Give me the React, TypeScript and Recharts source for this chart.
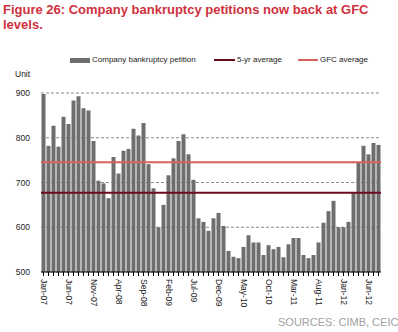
import React from 'react';
import { ComposedChart, Bar, XAxis, YAxis, CartesianGrid, ReferenceLine } from 'recharts';

const months = [
  'Jan-07', 'Feb-07', 'Mar-07', 'Apr-07', 'May-07', 'Jun-07', 'Jul-07', 'Aug-07', 'Sep-07', 'Oct-07', 'Nov-07', 'Dec-07',
  'Jan-08', 'Feb-08', 'Mar-08', 'Apr-08', 'May-08', 'Jun-08', 'Jul-08', 'Aug-08', 'Sep-08', 'Oct-08', 'Nov-08', 'Dec-08',
  'Jan-09', 'Feb-09', 'Mar-09', 'Apr-09', 'May-09', 'Jun-09', 'Jul-09', 'Aug-09', 'Sep-09', 'Oct-09', 'Nov-09', 'Dec-09',
  'Jan-10', 'Feb-10', 'Mar-10', 'Apr-10', 'May-10', 'Jun-10', 'Jul-10', 'Aug-10', 'Sep-10', 'Oct-10', 'Nov-10', 'Dec-10',
  'Jan-11', 'Feb-11', 'Mar-11', 'Apr-11', 'May-11', 'Jun-11', 'Jul-11', 'Aug-11', 'Sep-11', 'Oct-11', 'Nov-11', 'Dec-11',
  'Jan-12', 'Feb-12', 'Mar-12', 'Apr-12', 'May-12', 'Jun-12', 'Jul-12', 'Aug-12',
];

const petitions = [
  898, 782, 827, 780, 847, 831, 883, 893, 866, 861, 793, 704,
  698, 665, 757, 720, 771, 775, 820, 805, 833, 741, 687, 600,
  650, 716, 754, 793, 808, 763, 706, 620, 612, 592, 620, 632,
  603, 547, 534, 531, 556, 582, 566, 566, 538, 560, 551, 556,
  533, 562, 576, 576, 538, 531, 538, 566, 610, 636, 659, 600,
  600, 612, 678, 745, 782, 763, 788, 784,
];

const fiveYearAverage = 677;
const gfcAverage = 745;
const yTicks = [500, 600, 700, 800, 900];

const data = months.map((m, i) => ({ month: m, petitions: petitions[i] }));

const FONT = '"Liberation Sans", Arial, sans-serif';

const XTick = (props: any) => {
  const { x, y, payload, index } = props;
  if (index % 5 !== 0) return null;
  return (
    <text
      x={x}
      y={y}
      transform={`rotate(90, ${x}, ${y})`}
      textAnchor="start"
      dominantBaseline="central"
      fontSize={8.5}
      fill="#222"
      fontFamily={FONT}
    >
      {payload.value}
    </text>
  );
};

export default function App() {
  return (
    <div style={{ position: 'absolute', left: 0, top: 0, width: 398, height: 332, background: '#fff', fontFamily: FONT }}>
      <div
        style={{
          position: 'absolute',
          left: 3,
          top: 2,
          width: 392,
          color: '#d0313d',
          fontWeight: 'bold',
          fontSize: 13,
          lineHeight: '15px',
        }}
      >
        Figure 26: Company bankruptcy petitions now back at GFC levels.
      </div>
      <ComposedChart
        width={398}
        height={332}
        data={data}
        margin={{ top: 93, right: 17, left: 0, bottom: 0 }}
        barCategoryGap="10%"
      >
        <CartesianGrid vertical={false} stroke="#888" strokeDasharray="3 2" strokeWidth={1} />
        <XAxis
          dataKey="month"
          interval={0}
          height={60}
          tick={<XTick />}
          tickSize={4}
          tickMargin={3}
          axisLine={{ stroke: '#000' }}
          tickLine={{ stroke: '#000' }}
        />
        <YAxis
          domain={[500, 900]}
          ticks={yTicks}
          width={41}
          axisLine={false}
          tickLine={false}
          tickSize={6}
          tickMargin={5}
          tick={{ fontSize: 8.5, fill: '#222', fontFamily: FONT }}
        />
        <Bar dataKey="petitions" fill="#6e6e6e" isAnimationActive={false} />
        <ReferenceLine y={gfcAverage} stroke="#d9625e" strokeWidth={2} />
        <ReferenceLine y={fiveYearAverage} stroke="#6b0c20" strokeWidth={2} />
      </ComposedChart>
      <div style={{ position: 'absolute', left: 15, top: 69, fontSize: 8.5, color: '#222' }}>Unit</div>
      <div style={{ position: 'absolute', left: 70, top: 58, width: 20, height: 5, background: '#6e6e6e' }} />
      <div style={{ position: 'absolute', left: 92, top: 55, fontSize: 8, color: '#222', whiteSpace: 'nowrap' }}>Company bankruptcy petition</div>
      <div style={{ position: 'absolute', left: 214, top: 59, width: 21, height: 2, background: '#6b0c20' }} />
      <div style={{ position: 'absolute', left: 237, top: 55, fontSize: 8, color: '#222', whiteSpace: 'nowrap' }}>5-yr average</div>
      <div style={{ position: 'absolute', left: 298, top: 59, width: 20, height: 2, background: '#d9625e' }} />
      <div style={{ position: 'absolute', left: 320, top: 55, fontSize: 8, color: '#222', whiteSpace: 'nowrap' }}>GFC average</div>
      <div style={{ position: 'absolute', left: 278, top: 316, fontSize: 11, color: '#a0a0a0', whiteSpace: 'nowrap' }}>SOURCES: CIMB, CEIC</div>
    </div>
  );
}
